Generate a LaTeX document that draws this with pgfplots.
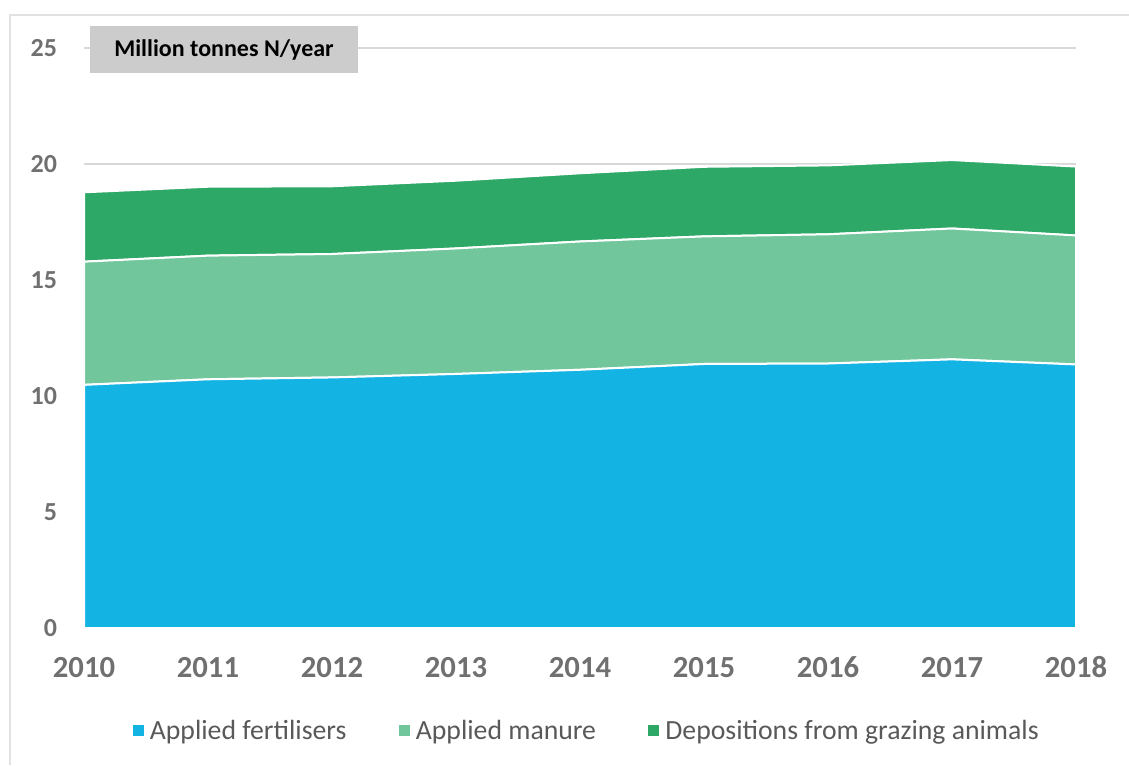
\documentclass[border=0pt]{standalone}
\usepackage{fontspec}
\setmainfont{Carlito}
\usepackage{pgfplots}
\pgfplotsset{compat=1.18}
\definecolor{fert}{HTML}{13B3E3}
\definecolor{manure}{HTML}{71C69B}
\definecolor{graze}{HTML}{2DA866}
\definecolor{gridc}{HTML}{D9D9D9}
\definecolor{tickc}{HTML}{707070}
\definecolor{legc}{HTML}{595959}
\definecolor{boxc}{HTML}{CCCCCC}
\begin{document}
\begin{tikzpicture}[x=0.75pt,y=0.75pt]
\path[use as bounding box] (0,0) rectangle (1129,765);
\draw[color=gridc!80, line width=1.5pt] (10,0) -- (10,750) -- (1129,750);
\begin{axis}[
  at={(63pt,102.75pt)}, anchor=south west,
  scale only axis, width=744pt, height=435pt,
  xmin=2010, xmax=2018, ymin=0, ymax=25,
  xtick={2010,2011,...,2018}, ytick={0,5,...,25},
  axis line style={draw=none},
  major tick length=0pt,
  ymajorgrids, grid style={color=gridc, line width=1.5pt},
  /pgf/number format/assume math mode=true,
  /pgf/number format/1000 sep={},
  yticklabel style={font=\fontsize{19.5}{20}\selectfont\bfseries, color=tickc, anchor=east, inner sep=0pt, xshift=-20pt},
  xticklabel style={font=\fontsize{23}{24}\selectfont\bfseries, color=tickc, anchor=base, inner sep=0pt, yshift=-36.75pt},
  stack plots=y,
  legend columns=3,
  legend style={at={(0.507,-0.1776)}, anchor=center, draw=none, fill=none,
    font=\fontsize{20.8}{22}\selectfont, text=legc,
    /tikz/every even column/.append style={column sep=37pt},
    /tikz/every odd column/.append style={column sep=2.5pt}},
  legend image code/.code={\fill[#1,draw=none] (0pt,-4pt) rectangle (8.5pt,4.5pt);},
  clip=false,
]
\addplot[fill=fert, draw=white, line width=1.5pt] coordinates {
(2010,10.48) (2011,10.72) (2012,10.80) (2013,10.95) (2014,11.13) (2015,11.38) (2016,11.40) (2017,11.58) (2018,11.36)
} \closedcycle;
\addlegendentry{Applied fertilisers}
\addplot[fill=manure, draw=white, line width=1.5pt] coordinates {
(2010,5.31) (2011,5.33) (2012,5.32) (2013,5.41) (2014,5.53) (2015,5.50) (2016,5.57) (2017,5.64) (2018,5.56)
} \closedcycle;
\addlegendentry{Applied manure}
\addplot[fill=graze, draw=white, line width=1.5pt] coordinates {
(2010,2.99) (2011,2.97) (2012,2.92) (2013,2.92) (2014,2.94) (2015,3.00) (2016,2.97) (2017,2.95) (2018,2.97)
} \closedcycle;
\addlegendentry{Depositions from grazing animals}
\end{axis}
\node[fill=boxc, minimum width=201pt, minimum height=35.25pt, inner sep=0pt, font=\fontsize{18}{20}\selectfont\bfseries] at (224,715.5) {Million tonnes N/year};
\end{tikzpicture}
\end{document}
